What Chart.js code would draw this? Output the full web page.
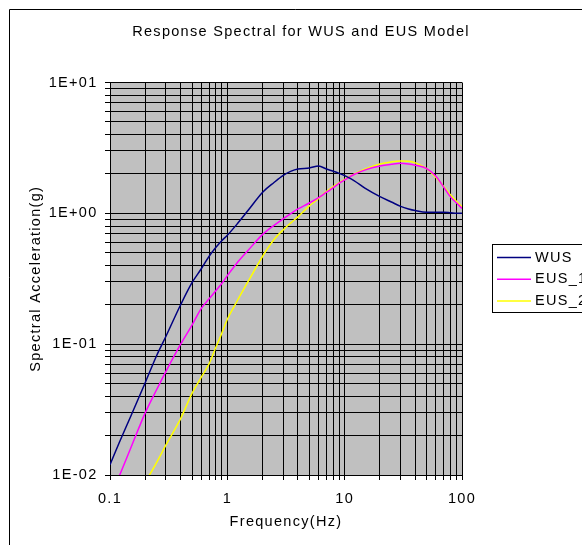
<!DOCTYPE html>
<html>
<head>
<meta charset="utf-8">
<script src="https://cdn.jsdelivr.net/npm/chart.js@4.4.1/dist/chart.umd.min.js"></script>
<style>
html,body{margin:0;padding:0;background:#fff;}
canvas{display:block;}
</style>
</head>
<body>
<canvas id="c" width="582" height="545"></canvas>
<script>
// ---- data ----
const titleText = 'Response Spectral for WUS and EUS Model';
const xTitle = 'Frequency(Hz)';
const yTitle = 'Spectral Acceleration(g)';
const freqs = [0.1,0.12,0.15,0.2,0.25,0.3,0.4,0.5,0.6,0.7,0.8,0.9,1,1.2,1.5,2,2.5,3,3.5,4,5,6,7,8,9,10,12,15,20,25,30,35,40,50,60,70,80,90,100];
const wus  = [0.012,0.0177,0.028,0.051,0.082,0.115,0.20,0.295,0.377,0.47,0.55,0.62,0.68,0.82,1.05,1.45,1.72,1.95,2.1,2.18,2.22,2.3,2.18,2.1,2.02,1.94,1.78,1.55,1.34,1.22,1.13,1.08,1.05,1.02,1.02,1.02,1.01,1.0,1.0];
const eus1 = [0.0065,0.0098,0.016,0.030,0.045,0.062,0.10,0.14,0.188,0.222,0.257,0.292,0.334,0.414,0.52,0.69,0.81,0.91,1.0,1.08,1.2,1.32,1.45,1.57,1.7,1.8,1.98,2.15,2.3,2.37,2.41,2.38,2.33,2.2,1.92,1.58,1.33,1.2,1.09];
const eus2 = [null,null,null,0.0088,0.0125,0.017,0.027,0.042,0.056,0.071,0.095,0.122,0.155,0.21,0.30,0.47,0.63,0.75,0.85,0.94,1.14,1.3,1.47,1.6,1.72,1.82,1.99,2.18,2.38,2.47,2.51,2.5,2.43,2.2,1.88,1.6,1.38,1.23,1.12];
const seriesNames = ['WUS','EUS_1','EUS_2'];
const seriesColors = ['#000080','#FF00FF','#FFFF00'];
const xTickValues = [0.1,1,10,100];
const xTickLabels = ['0.1','1','10','100'];
const yTickValues = [0.01,0.1,1,10];
const yTickLabels = ['1E-02','1E-01','1E+00','1E+01'];

const FAMILY = '"Liberation Sans", Arial, sans-serif';
const FSIZE = 14.5;
const LS = '1.3px';

function decadeTicks(min, max){
  const t = [];
  for (let e = Math.round(Math.log10(min)); e < Math.round(Math.log10(max)); e++) {
    for (let m = 1; m <= 9; m++) t.push({value: +(m * Math.pow(10, e)).toPrecision(6)});
  }
  t.push({value: max});
  return t;
}
function labelFor(vals, labels, v){
  for (let i = 0; i < vals.length; i++) if (Math.abs(Math.log10(v) - Math.log10(vals[i])) < 1e-6) return labels[i];
  return '';
}

const decor = {
  id: 'decor',
  beforeInit(chart){ chart.ctx.letterSpacing = LS; },
  beforeLayout(chart){ chart.ctx.letterSpacing = LS; },
  beforeDraw(chart){
    const {ctx, chartArea: a} = chart;
    ctx.save();
    ctx.fillStyle = '#fff';
    ctx.fillRect(0, 0, chart.width, chart.height);
    ctx.fillStyle = '#c0c0c0';
    ctx.fillRect(a.left, a.top, a.right - a.left, a.bottom - a.top);
    ctx.strokeStyle = '#000';
    ctx.lineWidth = 1;
    ctx.beginPath();
    ctx.moveTo(9.5, chart.height);
    ctx.lineTo(9.5, 9.5);
    ctx.lineTo(chart.width, 9.5);
    ctx.stroke();
    ctx.restore();
    ctx.letterSpacing = LS;
  },
  afterDraw(chart){
    const ctx = chart.ctx;
    ctx.save();
    ctx.letterSpacing = LS;
    ctx.font = FSIZE + 'px ' + FAMILY;
    ctx.fillStyle = '#000';
    ctx.textAlign = 'center';
    ctx.textBaseline = 'middle';
    ctx.fillText(titleText, 301, 32);
    // legend
    ctx.fillStyle = '#fff';
    ctx.fillRect(492.5, 244.5, chart.width, 68);
    ctx.strokeStyle = '#000';
    ctx.lineWidth = 1;
    ctx.strokeRect(492.5, 244.5, chart.width, 68);
    ctx.textAlign = 'left';
    chart.data.datasets.forEach((ds, i) => {
      const y = 257.5 + i * 21.7;
      ctx.strokeStyle = ds.borderColor;
      ctx.lineWidth = 1.5;
      ctx.beginPath();
      ctx.moveTo(497, y);
      ctx.lineTo(531, y);
      ctx.stroke();
      ctx.fillStyle = '#000';
      ctx.fillText(ds.label, 535, y);
    });
    ctx.restore();
  }
};

const font = {family: FAMILY, size: FSIZE};

new Chart(document.getElementById('c'), {
  type: 'line',
  data: {
    labels: freqs,
    datasets: [wus, eus1, eus2].map((vals, i) => ({
      label: seriesNames[i],
      data: freqs.map((f, j) => ({x: f, y: vals[j]})),
      borderColor: seriesColors[i],
      backgroundColor: seriesColors[i],
      borderWidth: 1.5,
      pointRadius: 0,
      pointHoverRadius: 0,
      fill: false,
      tension: 0,
      cubicInterpolationMode: 'monotone'
    }))
  },
  options: {
    responsive: false,
    animation: false,
    layout: {padding: {top: 82.5, right: 120, left: 0, bottom: 0}},
    plugins: {legend: {display: false}, title: {display: false}, tooltip: {enabled: false}},
    events: [],
    scales: {
      x: {
        type: 'logarithmic', position: 'bottom', min: 0.1, max: 100,
        afterBuildTicks(s){ s.ticks = decadeTicks(0.1, 100); },
        afterFit(s){ s.height = 70; },
        grid: {color: '#000', lineWidth: 1, tickLength: 5, drawTicks: true},
        border: {color: '#000', width: 1},
        ticks: {autoSkip: false, maxRotation: 0, minRotation: 0, padding: 9.8, color: '#000', font,
          callback: v => labelFor(xTickValues, xTickLabels, v)},
        title: {display: true, text: xTitle, color: '#000', font, padding: {top: 0, bottom: 14.3}}
      },
      y: {
        type: 'logarithmic', position: 'left', min: 0.01, max: 10,
        afterBuildTicks(s){ s.ticks = decadeTicks(0.01, 10); },
        afterFit(s){ s.width = 110; },
        grid: {color: '#000', lineWidth: 1, tickLength: 5, drawTicks: true},
        border: {color: '#000', width: 1},
        ticks: {autoSkip: false, padding: 7.5, color: '#000', font,
          callback: v => labelFor(yTickValues, yTickLabels, v)},
        title: {display: true, text: yTitle, color: '#000', font, padding: {top: 26.8, bottom: 0}}
      }
    }
  },
  plugins: [decor]
});
</script>
</body>
</html>
